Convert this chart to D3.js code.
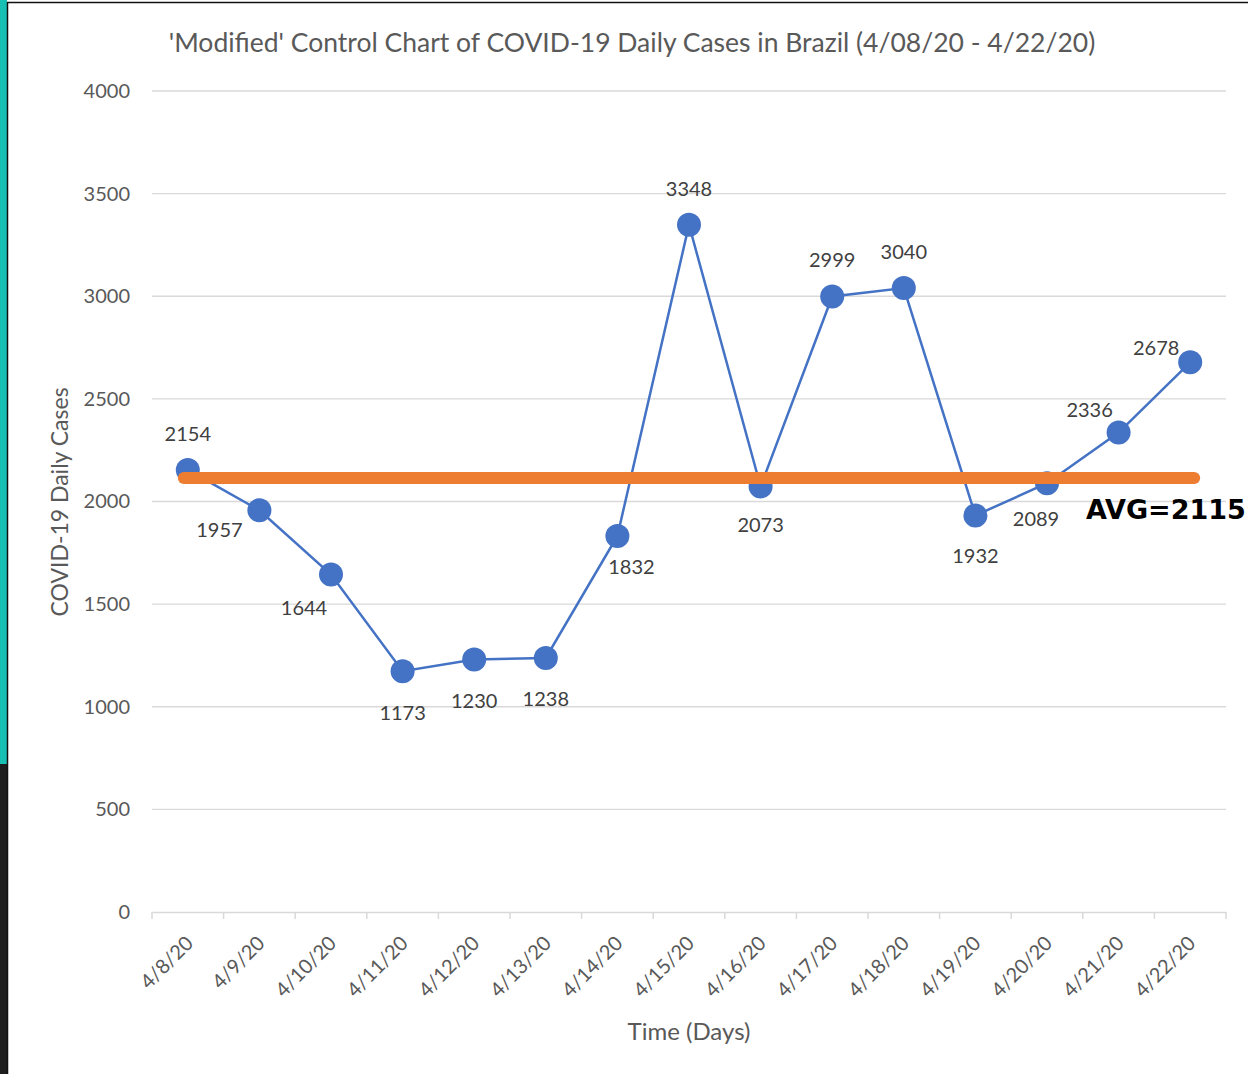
<!DOCTYPE html>
<html><head><meta charset="utf-8">
<script src="https://cdn.jsdelivr.net/npm/d3@7"></script>
<style>
html,body{margin:0;padding:0;background:#fff;}
svg{display:block;}
</style></head>
<body>
<svg id="chart" width="1248" height="1074"></svg>
<script>
const categories = ["4/8/20","4/9/20","4/10/20","4/11/20","4/12/20","4/13/20","4/14/20","4/15/20","4/16/20","4/17/20","4/18/20","4/19/20","4/20/20","4/21/20","4/22/20"];
const dailyCases = [2154,1957,1644,1173,1230,1238,1832,3348,2073,2999,3040,1932,2089,2336,2678];
const average = 2115;
const yTicks = [0,500,1000,1500,2000,2500,3000,3500,4000];
const title = "'Modified' Control Chart of COVID-19 Daily Cases in Brazil (4/08/20 - 4/22/20)";
const yTitle = "COVID-19 Daily Cases";
const xTitle = "Time (Days)";
const avgLabel = "AVG=" + average;
// label placement (offsets from point), layout only
const labelDx = [0,-40,-27,0,0,0,14,0,0,0,0,0,-11,-29,-34];
const labelDy = [-37,19,32,41,40,40,30,-37,37,-37,-37,40,35,-24,-15];

(function(){
const svg = d3.select("#chart");
const font = "Lato, 'Open Sans', sans-serif";
const grey = "#595959";

// frame decorations
svg.append("rect").attr("x",0).attr("y",0).attr("width",7).attr("height",764).attr("fill","#17c0b2");
svg.append("rect").attr("x",0).attr("y",764).attr("width",7).attr("height",310).attr("fill","#1e1e1e");
svg.append("line").attr("x1",7.5).attr("x2",7.5).attr("y1",2).attr("y2",1074).attr("stroke","#111").attr("stroke-width",1.5);
svg.append("line").attr("x1",7).attr("x2",1248).attr("y1",2.5).attr("y2",2.5).attr("stroke","#111").attr("stroke-width",1.5);

const mLeft = 152, mRight = 1226, mTop = 91, mBottom = 912;
const x = d3.scaleBand().domain(categories).range([mLeft,mRight]).padding(0);
const y = d3.scaleLinear().domain([0,4000]).range([mBottom,mTop]);
const cx = d => x(d) + x.bandwidth()/2;

// gridlines
svg.append("g").selectAll("line").data(yTicks.filter(t=>t>0)).join("line")
  .attr("x1",mLeft).attr("x2",mRight).attr("y1",d=>y(d)).attr("y2",d=>y(d))
  .attr("stroke","#d9d9d9").attr("stroke-width",1.3);

// y axis labels
const yAxis = svg.append("g").attr("transform",`translate(${mLeft},0)`)
  .call(d3.axisLeft(y).tickValues(yTicks).tickFormat(d3.format("d")).tickSize(0).tickPadding(22));
yAxis.select(".domain").remove();
yAxis.selectAll("text").attr("font-family",font).attr("font-size",20).attr("fill",grey);

// x axis
const xAxis = svg.append("g").attr("transform",`translate(0,${mBottom})`)
  .call(d3.axisBottom(x).tickSize(0).tickFormat(""));
xAxis.select(".domain").attr("stroke","#d9d9d9").attr("stroke-width",1.5);
const boundaries = categories.map(c=>x(c)).concat([mRight]);
svg.append("g").selectAll("line").data(boundaries).join("line")
  .attr("x1",d=>d).attr("x2",d=>d).attr("y1",mBottom).attr("y2",mBottom+7)
  .attr("stroke","#d9d9d9").attr("stroke-width",1.5);
svg.append("g").selectAll("text").data(categories).join("text")
  .attr("transform",d=>`translate(${cx(d)+3},${mBottom+29}) rotate(-45)`)
  .attr("text-anchor","end").attr("dominant-baseline","middle")
  .attr("font-family",font).attr("font-size",20).attr("fill",grey).text(d=>d);

// line + markers
const pts = categories.map((c,i)=>({c, v:dailyCases[i], i}));
svg.append("path").datum(pts)
  .attr("d", d3.line().x(d=>cx(d.c)).y(d=>y(d.v)))
  .attr("fill","none").attr("stroke","#4472c4").attr("stroke-width",2.5);
svg.append("g").selectAll("circle").data(pts).join("circle")
  .attr("cx",d=>cx(d.c)).attr("cy",d=>y(d.v)).attr("r",12)
  .attr("fill","#4472c4");

// average line
svg.append("line")
  .attr("x1",cx(categories[0])-4).attr("x2",cx(categories[categories.length-1])+4)
  .attr("y1",y(average)).attr("y2",y(average))
  .attr("stroke","#ed7d31").attr("stroke-width",12).attr("stroke-linecap","round");

// data labels
svg.append("g").selectAll("text").data(pts).join("text")
  .attr("x",d=>cx(d.c)+labelDx[d.i]).attr("y",d=>y(d.v)+labelDy[d.i])
  .attr("text-anchor","middle").attr("dominant-baseline","central")
  .attr("font-family",font).attr("font-size",20).attr("fill","#404040")
  .text(d=>d.v);

// AVG label
svg.append("text").attr("x",1086).attr("y",519)
  .attr("font-family","'DejaVu Sans', sans-serif").attr("font-weight","bold")
  .attr("font-size",27).attr("fill","#000").text(avgLabel);

// titles
svg.append("text").attr("x",632).attr("y",42).attr("text-anchor","middle").attr("dominant-baseline","central")
  .attr("font-family",font).attr("font-size",26.5).attr("fill",grey).text(title);
svg.append("text").attr("transform","translate(59,502) rotate(-90)").attr("text-anchor","middle").attr("dominant-baseline","central")
  .attr("font-family",font).attr("font-size",23).attr("fill",grey).text(yTitle);
svg.append("text").attr("x",689).attr("y",1030).attr("text-anchor","middle").attr("dominant-baseline","central")
  .attr("font-family",font).attr("font-size",24).attr("fill",grey).text(xTitle);
})();
</script>
</body></html>
